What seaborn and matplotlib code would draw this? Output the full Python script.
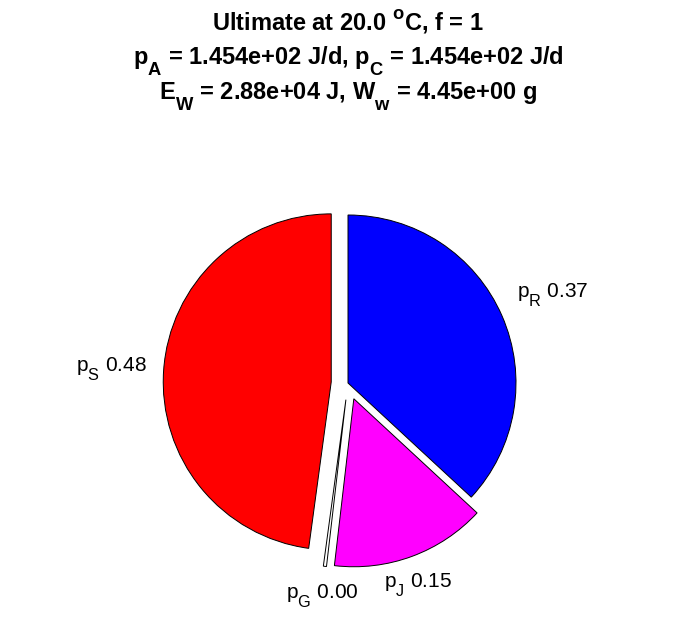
import numpy as np
import matplotlib.pyplot as plt
import matplotlib._mathtext as mathtext_internal
import seaborn as sns

# fractions of the assimilation power
names = ['R', 'J', 'G', 'S']
fractions = [0.37, 0.15, 0.003, 0.48]
colors = ['#0000ff', '#ff00ff', '#ffffff', '#ff0000']
explode = [0, 0.1, 0.1, 0.1]

temp = 20.0
f = 1
p_A = 1.454e+02
p_C = 1.454e+02
E_W = 2.88e+04
W_w = 4.45e+00

sns.set_style('white')
plt.rcParams['font.family'] = ['Liberation Sans', 'DejaVu Sans']
plt.rcParams['text.color'] = 'black'
plt.rcParams['mathtext.fontset'] = 'custom'
plt.rcParams['mathtext.rm'] = 'Liberation Sans'
plt.rcParams['mathtext.it'] = 'Liberation Sans'
plt.rcParams['mathtext.bf'] = 'Liberation Sans:bold'

# bigger, lower subscripts (closer to the TeX look of the original)
mathtext_internal.SHRINK_FACTOR = 0.78
mathtext_internal.FontConstantsBase.sub1 = 0.85
mathtext_internal.FontConstantsBase.sup1 = 0.9

W, H = 696, 618
R_PX = 168.0
CX, CY = 348.0, 383.0  # pie centre in pixels (from top)

fig = plt.figure(figsize=(W / 100, H / 100), dpi=100)
ax = fig.add_axes([0, 0, 1, 1])
wedges, _ = ax.pie(fractions, colors=colors, explode=explode, startangle=90,
                   counterclock=False,
                   wedgeprops=dict(edgecolor='black', linewidth=0.7))
ax.set_aspect('auto')
ax.set_xlim(-CX / R_PX, (W - CX) / R_PX)
ax.set_ylim(-(H - CY) / R_PX, CY / R_PX)
ax.axis('off')

for w, n, v in zip(wedges, names, fractions):
    ang = np.deg2rad((w.theta1 + w.theta2) / 2)
    c, s = np.cos(ang), np.sin(ang)
    x = w.center[0] + 1.1 * w.r * c
    y = w.center[1] + 1.1 * w.r * s
    ha = 'center' if abs(c) < 0.5 else ('left' if c > 0 else 'right')
    va = 'bottom' if s > 0.2 else ('top' if s < -0.2 else 'center')
    ax.text(x, y, rf'$\mathregular{{p_{n}}}$ {v:.2f}', ha=ha, va=va, fontsize=15)

lines = [
    rf'Ultimate at {temp:.1f} $\mathbf{{^o}}$C, f = {f}',
    rf'$\mathbf{{p_A}}$ = {p_A:.3e} J/d, $\mathbf{{p_C}}$ = {p_C:.3e} J/d',
    rf'$\mathbf{{E_W}}$ = {E_W:.2e} J, $\mathbf{{W_w}}$ = {W_w:.2e} g',
]
for i, t in enumerate(lines):
    fig.text(0.5, 1 - (30 + 35 * i) / H, t, ha='center', va='baseline',
             fontsize=17, fontweight='bold')

fig.savefig('out.png', dpi=100)
